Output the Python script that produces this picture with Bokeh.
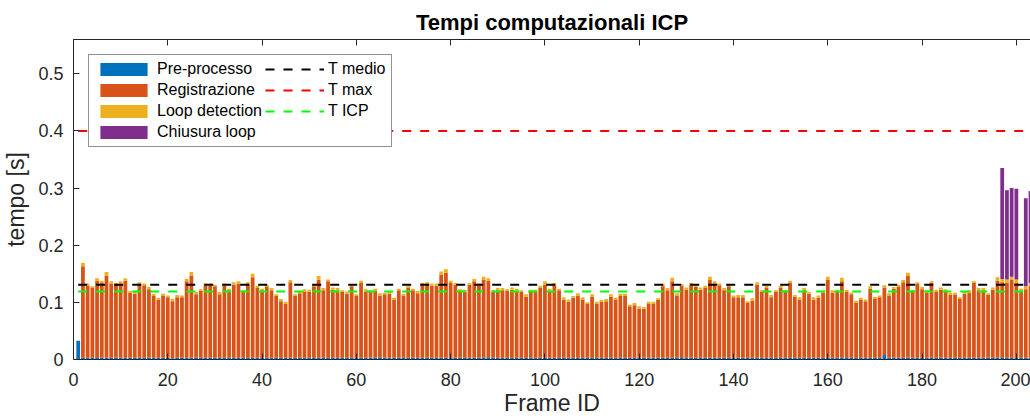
from bokeh.plotting import figure
from bokeh.models import ColumnDataSource, Legend, LegendItem, LinearAxis, FixedTicker, Range1d
from bokeh.embed import file_html
from bokeh.resources import INLINE

# ---------------- data ----------------
frame_id = list(range(1, 204))

pre_processo = [
    0.033,
    0.003, 0.003, 0.003, 0.004, 0.003, 0.003, 0.003, 0.003, 0.003, 0.003,
    0.003, 0.003, 0.003, 0.003, 0.003, 0.003, 0.003, 0.003, 0.003, 0.002,
    0.003, 0.003, 0.003, 0.003, 0.003, 0.003, 0.003, 0.003, 0.003, 0.003,
    0.003, 0.003, 0.003, 0.003, 0.003, 0.003, 0.003, 0.003, 0.003, 0.003,
    0.003, 0.003, 0.003, 0.003, 0.003, 0.003, 0.003, 0.003, 0.003, 0.003,
    0.003, 0.003, 0.003, 0.003, 0.003, 0.003, 0.003, 0.003, 0.003, 0.003,
    0.003, 0.003, 0.003, 0.004, 0.003, 0.003, 0.003, 0.003, 0.003, 0.003,
    0.003, 0.003, 0.003, 0.003, 0.003, 0.003, 0.003, 0.003, 0.003, 0.003,
    0.003, 0.003, 0.003, 0.003, 0.003, 0.003, 0.004, 0.003, 0.003, 0.003,
    0.003, 0.003, 0.003, 0.003, 0.003, 0.003, 0.003, 0.003, 0.003, 0.003,
    0.003, 0.003, 0.003, 0.003, 0.003, 0.003, 0.003, 0.003, 0.003, 0.003,
    0.003, 0.003, 0.003, 0.003, 0.003, 0.003, 0.003, 0.003, 0.003, 0.003,
    0.003, 0.003, 0.003, 0.003, 0.003, 0.003, 0.003, 0.004, 0.003, 0.003,
    0.003, 0.003, 0.003, 0.003, 0.003, 0.003, 0.003, 0.003, 0.003, 0.003,
    0.003, 0.003, 0.003, 0.003, 0.003, 0.003, 0.003, 0.003, 0.003, 0.003,
    0.003, 0.003, 0.003, 0.003, 0.003, 0.003, 0.003, 0.003, 0.003, 0.003,
    0.003, 0.003, 0.004, 0.003, 0.003, 0.003, 0.003, 0.003, 0.003, 0.003,
    0.008, 0.003, 0.003, 0.003, 0.003, 0.003, 0.003, 0.003, 0.003, 0.003,
    0.003, 0.003, 0.003, 0.003, 0.003, 0.003, 0.003, 0.003, 0.003, 0.003,
    0.003, 0.003, 0.003, 0.003, 0.003, 0.004, 0.003, 0.003, 0.003, 0.003,
    0.003, 0.003,
]

registrazione = [
    0.0,
    0.160, 0.126, 0.122, 0.134, 0.131, 0.144, 0.130, 0.128, 0.130, 0.135,
    0.114, 0.112, 0.128, 0.127, 0.120, 0.108, 0.102, 0.108, 0.106, 0.100,
    0.106, 0.106, 0.134, 0.144, 0.111, 0.117, 0.126, 0.126, 0.125, 0.111,
    0.126, 0.118, 0.128, 0.130, 0.115, 0.128, 0.141, 0.122, 0.118, 0.124,
    0.118, 0.108, 0.099, 0.094, 0.132, 0.108, 0.113, 0.116, 0.116, 0.125,
    0.137, 0.118, 0.134, 0.119, 0.118, 0.115, 0.112, 0.125, 0.108, 0.131,
    0.116, 0.115, 0.117, 0.108, 0.111, 0.112, 0.101, 0.118, 0.108, 0.122,
    0.118, 0.113, 0.127, 0.129, 0.126, 0.126, 0.145, 0.149, 0.131, 0.128,
    0.116, 0.115, 0.128, 0.134, 0.126, 0.136, 0.134, 0.115, 0.118, 0.118,
    0.117, 0.119, 0.117, 0.115, 0.107, 0.115, 0.116, 0.122, 0.128, 0.117,
    0.127, 0.118, 0.102, 0.098, 0.105, 0.109, 0.102, 0.094, 0.107, 0.094,
    0.098, 0.099, 0.107, 0.102, 0.108, 0.108, 0.090, 0.092, 0.086, 0.086,
    0.094, 0.094, 0.101, 0.125, 0.118, 0.134, 0.109, 0.125, 0.119, 0.127,
    0.124, 0.119, 0.122, 0.136, 0.130, 0.127, 0.118, 0.125, 0.106, 0.106,
    0.106, 0.096, 0.100, 0.128, 0.115, 0.122, 0.106, 0.115, 0.122, 0.115,
    0.131, 0.107, 0.102, 0.118, 0.112, 0.102, 0.105, 0.114, 0.136, 0.114,
    0.115, 0.134, 0.114, 0.111, 0.096, 0.101, 0.099, 0.121, 0.103, 0.106,
    0.118, 0.109, 0.121, 0.124, 0.132, 0.143, 0.115, 0.129, 0.120, 0.114,
    0.131, 0.115, 0.119, 0.117, 0.110, 0.110, 0.103, 0.112, 0.114, 0.131,
    0.118, 0.118, 0.110, 0.119, 0.135, 0.131, 0.131, 0.136, 0.131, 0.117,
    0.120, 0.126,
]

loop_detection = [
    0.0,
    0.006, 0.004, 0.003, 0.004, 0.004, 0.006, 0.004, 0.003, 0.004, 0.004,
    0.003, 0.004, 0.004, 0.003, 0.004, 0.004, 0.003, 0.004, 0.003, 0.004,
    0.004, 0.003, 0.004, 0.006, 0.004, 0.003, 0.004, 0.004, 0.003, 0.004,
    0.004, 0.003, 0.004, 0.004, 0.003, 0.004, 0.006, 0.004, 0.003, 0.004,
    0.004, 0.003, 0.004, 0.004, 0.004, 0.003, 0.004, 0.004, 0.003, 0.004,
    0.006, 0.004, 0.003, 0.004, 0.004, 0.003, 0.004, 0.004, 0.003, 0.004,
    0.004, 0.003, 0.004, 0.004, 0.003, 0.004, 0.004, 0.003, 0.004, 0.004,
    0.003, 0.004, 0.004, 0.003, 0.004, 0.004, 0.006, 0.006, 0.004, 0.003,
    0.004, 0.004, 0.003, 0.004, 0.004, 0.006, 0.004, 0.003, 0.004, 0.004,
    0.003, 0.004, 0.004, 0.003, 0.004, 0.004, 0.003, 0.004, 0.006, 0.004,
    0.004, 0.003, 0.004, 0.004, 0.003, 0.004, 0.004, 0.003, 0.004, 0.004,
    0.003, 0.004, 0.004, 0.003, 0.004, 0.004, 0.003, 0.004, 0.004, 0.003,
    0.004, 0.004, 0.003, 0.004, 0.004, 0.006, 0.004, 0.003, 0.004, 0.004,
    0.003, 0.004, 0.004, 0.006, 0.004, 0.003, 0.004, 0.004, 0.003, 0.004,
    0.004, 0.003, 0.004, 0.004, 0.003, 0.004, 0.004, 0.003, 0.004, 0.004,
    0.004, 0.003, 0.004, 0.004, 0.003, 0.004, 0.004, 0.003, 0.006, 0.004,
    0.003, 0.006, 0.004, 0.003, 0.004, 0.004, 0.003, 0.004, 0.004, 0.003,
    0.004, 0.004, 0.003, 0.004, 0.004, 0.006, 0.004, 0.003, 0.004, 0.004,
    0.003, 0.004, 0.004, 0.003, 0.004, 0.004, 0.003, 0.004, 0.004, 0.003,
    0.004, 0.004, 0.003, 0.004, 0.006, 0.006, 0.006, 0.006, 0.006, 0.004,
    0.005, 0.005,
]

# loop closure only happens on a few frames
chiusura_frames = [197, 198, 199, 200, 202, 203]
chiusura_values = [0.194, 0.156, 0.155, 0.159, 0.154, 0.161]

t_medio = 0.131
t_max = 0.400
t_icp = 0.119

x_ticks = [0, 20, 40, 60, 80, 100, 120, 140, 160, 180, 200]
y_ticks = [0, 0.1, 0.2, 0.3, 0.4, 0.5]
y_tick_labels = ["0", "0.1", "0.2", "0.3", "0.4", "0.5"]

series_names = ["Pre-processo", "Registrazione", "Loop detection", "Chiusura loop"]
series_colors = ["#0072BD", "#D95319", "#EDB120", "#7E2F8E"]

# ---------------- build ----------------
close_map = dict(zip(chiusura_frames, chiusura_values))
chiusura = [close_map.get(f, 0.0) for f in frame_id]

source = ColumnDataSource(dict(
    frame=frame_id, pre=pre_processo, reg=registrazione,
    ld=loop_detection, lc=chiusura,
))

FONT = "Liberation Sans"
AX = "#262626"

p = figure(
    frame_width=957, frame_height=320,
    min_border_left=73, min_border_right=0, min_border_top=39, min_border_bottom=60,
    x_range=Range1d(0, 203), y_range=Range1d(0, 0.56),
    output_backend="svg", toolbar_location=None,
    background_fill_color="white", border_fill_color="white",
)

bars = p.vbar_stack(["pre", "reg", "ld", "lc"], x="frame", width=0.8,
                    color=series_colors, line_color=None, source=source)

lx = [frame_id[0], frame_id[-1]]
r_medio = p.line(lx, [t_medio, t_medio], line_color="black", line_width=2, line_dash="9 9")
r_max = p.line(lx, [t_max, t_max], line_color="#FF0000", line_width=2, line_dash="9 9")
r_icp = p.line(lx, [t_icp, t_icp], line_color="#00FF00", line_width=2, line_dash="9 9")

# axes
p.xgrid.visible = False
p.ygrid.visible = False
p.outline_line_color = None

p.xaxis.ticker = FixedTicker(ticks=x_ticks)
p.yaxis.ticker = FixedTicker(ticks=y_ticks)
p.yaxis.major_label_overrides = dict(zip(y_ticks, y_tick_labels))

for ax in (p.xaxis[0], p.yaxis[0]):
    ax.axis_line_color = AX
    ax.major_tick_line_color = AX
    ax.major_tick_in = 6
    ax.major_tick_out = 0
    ax.minor_tick_line_color = None
    ax.major_label_text_font = FONT
    ax.major_label_text_font_size = "18px"
    ax.major_label_text_color = AX
    ax.axis_label_text_font = FONT
    ax.axis_label_text_font_size = "23px"
    ax.axis_label_text_font_style = "normal"
    ax.axis_label_text_color = AX

p.xaxis.axis_label = "Frame ID"
p.yaxis.axis_label = "tempo [s]"
p.xaxis.major_label_standoff = 13
p.yaxis.major_label_standoff = 10
p.xaxis.axis_label_standoff = 1
p.yaxis.axis_label_standoff = 6

top_axis = LinearAxis(ticker=FixedTicker(ticks=x_ticks), axis_line_color=AX,
                      major_tick_line_color=AX, major_tick_in=6, major_tick_out=0,
                      minor_tick_line_color=None, major_label_text_font_size="0px")
p.add_layout(top_axis, "above")

p.title.text = "Tempi computazionali ICP"
p.title.align = "center"
p.title.text_font = FONT
p.title.text_font_size = "22px"
p.title.text_font_style = "bold"
p.title.text_color = "black"

legend = Legend(
    items=[LegendItem(label=series_names[i], renderers=[bars[i]]) for i in range(4)] + [
        LegendItem(label="T medio", renderers=[r_medio]),
        LegendItem(label="T max", renderers=[r_max]),
        LegendItem(label="T ICP", renderers=[r_icp]),
    ],
    location="top_left", nrows=4,
    glyph_width=59, glyph_height=16, label_height=16,
    label_standoff=4, spacing=3, padding=5, margin=15,
    label_text_font=FONT, label_text_font_size="16px", label_text_color="black",
    border_line_color=AX, border_line_width=1, background_fill_alpha=1.0,
)
p.add_layout(legend)

open("out.html", "w").write(file_html(p, INLINE))
